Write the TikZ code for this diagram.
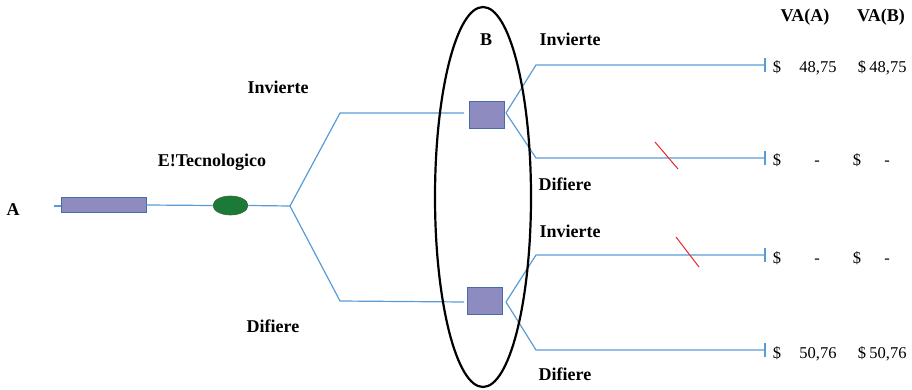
\documentclass[tikz,border=0pt]{standalone}
\usepackage{fontspec}
\setmainfont{Liberation Serif}
\usetikzlibrary{shapes.geometric}
\definecolor{lineblue}{RGB}{91,155,213}
\definecolor{boxfill}{RGB}{142,139,192}
\definecolor{boxedge}{RGB}{74,107,165}
\definecolor{nodegreen}{RGB}{27,122,54}
\definecolor{greenedge}{RGB}{60,100,60}
\definecolor{slashred}{RGB}{230,40,40}
\begin{document}
\begin{tikzpicture}[x=1pt,y=-1pt,
  conn/.style={draw=lineblue,line width=1.2pt},
  decbox/.style={draw=boxedge,fill=boxfill,line width=0.9pt,inner sep=0pt,minimum width=35pt,minimum height=27pt},
  longbox/.style={draw=boxedge,fill=boxfill,line width=0.9pt,inner sep=0pt,minimum width=85pt,minimum height=15pt},
  chance/.style={ellipse,draw=greenedge,fill=nodegreen,line width=0.6pt,inner sep=0pt,minimum width=35pt,minimum height=19pt},
  lbl/.style={font=\fontsize{18}{20}\selectfont\bfseries,anchor=base,inner sep=0pt},
  val/.style={font=\fontsize{16.5}{18}\selectfont,anchor=base,inner sep=0pt},
  slash/.style={draw=slashred,line width=1pt}]
\useasboundingbox (0,0) rectangle (912,390);

% left part
\coordinate (start) at (54,206);
\node[longbox] (rect) at (103.5,205) {};
\node[chance] (chn) at (230.5,205.5) {};
\coordinate (fork) at (290,206);
\coordinate (ku) at (340,113);
\coordinate (kl) at (340,301);
\node[decbox] (sqU) at (486.5,114.5) {};
\node[decbox] (sqL) at (484.5,301) {};
\coordinate (inU) at (464,113);
\coordinate (inL) at (464,302);
\coordinate (spU) at (506,113);
\coordinate (spL) at (506,302);
\coordinate (u1) at (536,65);
\coordinate (u2) at (536,158);
\coordinate (l1) at (536,255);
\coordinate (l2) at (536,350);
\coordinate (e1) at (765,65);
\coordinate (e2) at (765,158);
\coordinate (e3) at (765,255);
\coordinate (e4) at (765,350);

\draw[conn] (start) -- (rect.west |- start);
\draw[conn] (rect.east) -- (chn.west);
\draw[conn] (chn.east) -- (fork);
\draw[conn] (fork) -- (ku) -- (inU);
\draw[conn] (fork) -- (kl) -- (inL);
\draw[conn] (spU) -- (u1) -- (e1);
\draw[conn] (spU) -- (u2) -- (e2);
\draw[conn] (spL) -- (l1) -- (e3);
\draw[conn] (spL) -- (l2) -- (e4);
\foreach \e in {e1,e2,e3,e4}{
  \draw[conn] ([yshift=-7pt]\e) -- ([yshift=7pt]\e);
}

% big ellipse
\draw[black,line width=2.2pt] (483,197) ellipse [x radius=48, y radius=190];

% red slashes
\coordinate (r1a) at (655,142);
\coordinate (r1b) at (678,169);
\coordinate (r2a) at (676,237);
\coordinate (r2b) at (699,267);
\draw[slash] (r1a) -- (r1b);
\draw[slash] (r2a) -- (r2b);

% labels
\node[lbl] (tA) at (13,215) {A};
\node[lbl] (tE) at (212,167) {E!Tecnologico};
\node[lbl] (tI0) at (278,94) {Invierte};
\node[lbl] (tD0) at (273,332) {Difiere};
\node[lbl] (tB) at (486,46) {B};
\node[lbl] (tI1) at (570,46) {Invierte};
\node[lbl] (tD1) at (565,190) {Difiere};
\node[lbl] (tI2) at (570,237) {Invierte};
\node[lbl] (tD2) at (565,380) {Difiere};
\node[lbl] (hA) at (805,22) {VA(A)};
\node[lbl] (hB) at (881,22) {VA(B)};

% values
\node[val] (d1a) at (777,73) {\$};
\node[val] (v1a) at (818,73) {48,75};
\node[val] (d1b) at (862,73) {\$};
\node[val] (v1b) at (888,73) {48,75};
\node[val] (d2a) at (777,166) {\$};
\node[val] (v2a) at (817,166) {-};
\node[val] (d2b) at (857,166) {\$};
\node[val] (v2b) at (887,166) {-};
\node[val] (d3a) at (777,263) {\$};
\node[val] (v3a) at (817,263) {-};
\node[val] (d3b) at (857,263) {\$};
\node[val] (v3b) at (887,263) {-};
\node[val] (d4a) at (777,358) {\$};
\node[val] (v4a) at (818,358) {50,76};
\node[val] (d4b) at (862,358) {\$};
\node[val] (v4b) at (888,358) {50,76};
\end{tikzpicture}
\end{document}
